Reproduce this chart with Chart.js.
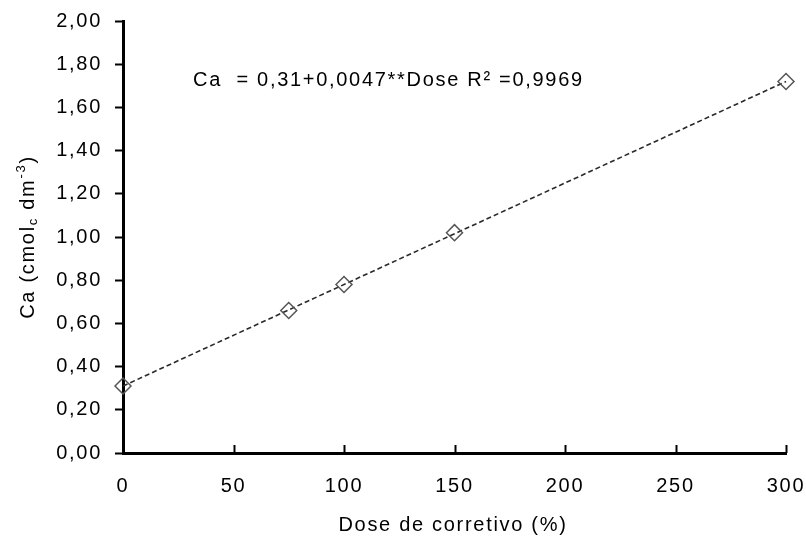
<!DOCTYPE html>
<html>
<head>
<meta charset="utf-8">
<script src="https://cdn.jsdelivr.net/npm/chart.js@4/dist/chart.umd.min.js"></script>
<style>
html,body{margin:0;padding:0;background:#fff;}
#wrap{width:806px;height:541px;}
</style>
</head>
<body>
<div id="wrap"><canvas id="c" width="806" height="541"></canvas></div>
<script>
// Data
const doses = [0, 75, 100, 150, 300];
const caValues = [0.31, 0.66, 0.78, 1.02, 1.72];
const fitX = [0, 300];
const fitY = [0.31, 1.72];
const xTicks = [0, 50, 100, 150, 200, 250, 300];
const yTicks = [0, 0.2, 0.4, 0.6, 0.8, 1.0, 1.2, 1.4, 1.6, 1.8, 2.0];
const equationText = 'Ca  = 0,31+0,0047**Dose R\u00B2 =0,9969';
const xTitle = 'Dose de corretivo (%)';

const FONT = '"Liberation Sans", Arial, sans-serif';
const SPACING = '1.7px';

const spacingPlugin = {
  id: 'spacing',
  beforeUpdate(chart){ chart.ctx.letterSpacing = SPACING; },
  beforeLayout(chart){ chart.ctx.letterSpacing = SPACING; },
  beforeDraw(chart){ chart.ctx.letterSpacing = SPACING; }
};

const decorPlugin = {
  id: 'decor',
  afterDraw(chart){
    const ctx = chart.ctx;
    const xs = chart.scales.x;
    const ys = chart.scales.y;
    ctx.save();
    ctx.letterSpacing = SPACING;
    // x ticks pointing up (inside)
    ctx.strokeStyle = '#000';
    ctx.lineWidth = 2;
    xTicks.forEach(v => {
      const px = Math.round(xs.getPixelForValue(v)) + 0.5;
      ctx.beginPath();
      ctx.moveTo(px, ys.bottom);
      ctx.lineTo(px, ys.bottom - 8);
      ctx.stroke();
    });
    // equation
    ctx.fillStyle = '#000';
    ctx.font = '20px ' + FONT;
    ctx.textAlign = 'left';
    ctx.textBaseline = 'middle';
    ctx.fillText(equationText, 193, 80);
    // x title
    ctx.textAlign = 'center';
    ctx.fillText(xTitle, 453, 525);
    // y title with sub/superscripts
    const parts = [
      {t:'Ca (cmol', f:'20px ', dy:0},
      {t:'c', f:'13px ', dy:5},
      {t:' dm', f:'20px ', dy:0},
      {t:'-3', f:'13px ', dy:-7},
      {t:')', f:'20px ', dy:0}
    ];
    let total = 0;
    parts.forEach(p => { ctx.font = p.f + FONT; p.w = ctx.measureText(p.t).width; total += p.w; });
    ctx.translate(28, 237);
    ctx.rotate(-Math.PI/2);
    ctx.textAlign = 'left';
    let x = -total/2;
    parts.forEach(p => {
      ctx.font = p.f + FONT;
      ctx.fillText(p.t, x, p.dy);
      x += p.w;
    });
    ctx.restore();
  }
};

new Chart(document.getElementById('c'), {
  type: 'scatter',
  data: {
    datasets: [
      {
        label: 'fit',
        data: fitX.map((x, i) => ({x: x, y: fitY[i]})),
        showLine: true,
        borderColor: '#2a2a2a',
        borderWidth: 1.6,
        borderDash: [5, 3],
        pointRadius: 0,
        fill: false,
        order: 2
      },
      {
        label: 'Ca',
        data: doses.map((x, i) => ({x: x, y: caValues[i]})),
        showLine: false,
        pointStyle: 'rectRot',
        pointRadius: 8,
        pointBorderColor: '#555',
        pointBackgroundColor: 'rgba(0,0,0,0)',
        pointBorderWidth: 1.5,
        order: 1
      }
    ]
  },
  options: {
    responsive: false,
    animation: false,
    devicePixelRatio: 1,
    clip: false,
    layout: { padding: { top: 21, right: 20, left: 0, bottom: 0 } },
    plugins: { legend: { display: false }, tooltip: { enabled: false } },
    scales: {
      x: {
        type: 'linear',
        min: 0, max: 300,
        afterBuildTicks(scale){ scale.ticks = xTicks.map(v => ({value: v})); },
        ticks: {
          color: '#000',
          font: { size: 20, family: FONT },
          padding: 21,
          maxRotation: 0,
          callback: v => String(v)
        },
        grid: { drawOnChartArea: false, drawTicks: false },
        border: { display: true, color: '#000', width: 3 },
        afterFit(scale){ scale.height = 88; scale.paddingRight = 0; scale.paddingLeft = 0; }
      },
      y: {
        type: 'linear',
        min: 0, max: 2,
        afterBuildTicks(scale){ scale.ticks = yTicks.map(v => ({value: v})); },
        ticks: {
          color: '#000',
          font: { size: 20, family: FONT },
          padding: 13,
          callback: v => Number(v).toFixed(2).replace('.', ',')
        },
        grid: { drawOnChartArea: false, drawTicks: true, tickLength: 8, tickWidth: 2, tickColor: '#000' },
        border: { display: true, color: '#000', width: 3 },
        afterFit(scale){ scale.width = 123; scale.paddingTop = 0; scale.paddingBottom = 0; }
      }
    }
  },
  plugins: [spacingPlugin, decorPlugin]
});
</script>
</body>
</html>
